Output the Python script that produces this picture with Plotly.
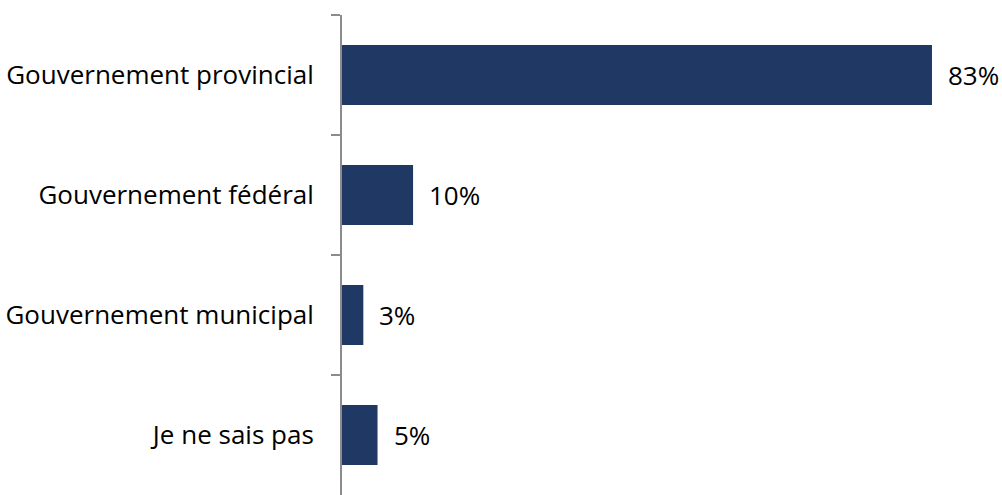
import plotly.graph_objects as go

# Survey responses: which level of government is responsible
categories = ["Gouvernement provincial", "Gouvernement fédéral", "Gouvernement municipal", "Je ne sais pas"]
values = [83, 10, 3, 5]
value_labels = [f"{v}%" for v in values]

BAR_COLOR = "#203864"
AXIS_COLOR = "#8c8c8c"
FONT = "Open Sans"
FONT_SIZE = 26

fig = go.Figure(
    go.Bar(
        x=values,
        y=categories,
        orientation="h",
        marker=dict(color=BAR_COLOR, line=dict(width=0)),
        width=0.5,
        hoverinfo="skip",
    )
)

for cat, v, lab in zip(categories, values, value_labels):
    fig.add_annotation(
        x=v, y=cat, text=lab, showarrow=False,
        xanchor="left", yanchor="middle", xshift=14,
        font=dict(family=FONT, size=FONT_SIZE, color="#000000"),
    )

fig.update_layout(
    width=1002, height=495,
    margin=dict(l=342, r=0, t=15, b=0),
    paper_bgcolor="white", plot_bgcolor="white",
    showlegend=False,
    font=dict(family=FONT, size=FONT_SIZE, color="#000000"),
)
fig.update_xaxes(range=[0, 92.85], visible=False, fixedrange=True)
fig.update_yaxes(
    type="category",
    categoryorder="array", categoryarray=categories,
    autorange=False, range=[3.5, -0.5],
    showline=True, linecolor=AXIS_COLOR, linewidth=2,
    ticks="outside", tickson="boundaries", ticklen=9, tickcolor=AXIS_COLOR, tickwidth=2,
    ticklabelstandoff=21,
    showgrid=False, zeroline=False,
    tickfont=dict(family=FONT, size=FONT_SIZE, color="#000000"),
)

fig.write_html("out.html")
